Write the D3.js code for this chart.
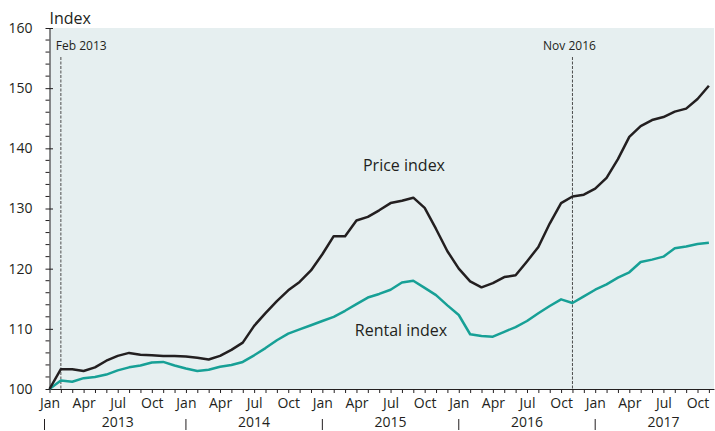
<!DOCTYPE html>
<html>
<head>
<meta charset="utf-8">
<script src="https://cdn.jsdelivr.net/npm/d3@7"></script>
<style>
    body { margin: 0; background: #fff; }
    text { font-family: "Open Sans", sans-serif; fill: #231f20; }
</style>
</head>
<body>
<script>
// Données : indices mensuels, janv. 2013 -> nov. 2017
const monthNames = ["Jan", "Feb", "Mar", "Apr", "May", "Jun", "Jul", "Aug", "Sep", "Oct", "Nov", "Dec"]
const years = [2013, 2014, 2015, 2016, 2017]
const yTicks = [100, 110, 120, 130, 140, 150, 160]

const priceIndex = [100.0, 103.3, 103.3, 103.0, 103.6, 104.7, 105.5, 106.0, 105.7, 105.6, 105.5, 105.5,
    105.4, 105.2, 104.9, 105.5, 106.5, 107.7, 110.5, 112.6, 114.6, 116.4, 117.8, 119.7,
    122.4, 125.4, 125.4, 128.0, 128.6, 129.7, 130.9, 131.3, 131.8, 130.1, 126.6, 122.9,
    120.0, 117.9, 116.9, 117.6, 118.6, 118.9, 121.2, 123.6, 127.5, 130.9, 132.0, 132.3,
    133.3, 135.1, 138.2, 141.9, 143.7, 144.7, 145.2, 146.1, 146.6, 148.2, 150.4]

const rentalIndex = [100.0, 101.4, 101.2, 101.8, 102.0, 102.4, 103.1, 103.6, 103.9, 104.4, 104.5, 103.9,
    103.4, 103.0, 103.2, 103.7, 104.0, 104.5, 105.6, 106.8, 108.1, 109.2, 109.9, 110.6,
    111.3, 112.0, 113.0, 114.1, 115.2, 115.8, 116.5, 117.7, 118.0, 116.8, 115.6, 113.9,
    112.3, 109.1, 108.8, 108.7, 109.5, 110.3, 111.3, 112.6, 113.8, 114.9, 114.3, 115.4,
    116.5, 117.4, 118.5, 119.4, 121.1, 121.5, 122.0, 123.4, 123.7, 124.1, 124.3]

// repères verticaux (indice du mois, libellé)
const markers = [
    { month: 1, label: "Feb 2013", anchor: "start", dx: -5 },
    { month: 46, label: "Nov 2016", anchor: "middle", dx: -3 }
]

//----------------------------------------------------------------------------------------------
const width = 715
const height = 431
const margin = { top: 28, right: 1, bottom: 42, left: 49.5 }

const svg = d3.select("body")
    .append("svg")
    .attr("width", width)
    .attr("height", height)

const x = d3.scaleLinear()
    .domain([0, 58.45])
    .range([margin.left, width - margin.right])

const y = d3.scaleLinear()
    .domain([100, 160])
    .range([height - margin.bottom, margin.top])

// fond de la zone du graphique
svg.append("rect")
    .attr("x", x(0))
    .attr("y", y(160))
    .attr("width", x.range()[1] - x(0))
    .attr("height", y(100) - y(160))
    .attr("fill", "#e6eff0")

//------------------------------- Axe Y ---------------------------------------------------------
const minorY = d3.range(100, 161, 2).filter(v => v % 10 != 0)

svg.append("g")
    .selectAll("line")
    .data(minorY)
    .join("line")
    .attr("x1", x(0) - 4)
    .attr("x2", x(0))
    .attr("y1", d => y(d))
    .attr("y2", d => y(d))
    .attr("stroke", "#231f20")
    .attr("stroke-width", 1)

const yAxis = svg.append("g")
    .attr("transform", `translate(${x(0)},0)`)
    .call(d3.axisLeft(y).tickValues(yTicks).tickSize(4).tickPadding(13).tickSizeOuter(0))

yAxis.select(".domain").attr("stroke", "#231f20")
yAxis.selectAll(".tick line").attr("x2", 3.5).attr("x1", -4).attr("stroke", "#231f20")
yAxis.selectAll(".tick text")
    .style("font-size", "14px")
    .style("font-family", "'Open Sans', sans-serif")
    .attr("fill", "#231f20")

svg.append("text")
    .attr("x", x(0))
    .attr("y", 24)
    .style("font-size", "16px")
    .text("Index")

//------------------------------- Axe X ---------------------------------------------------------
const xAxis = svg.append("g")
    .attr("transform", `translate(0,${y(100)})`)
    .call(d3.axisBottom(x)
        .tickValues(d3.range(0, 59))
        .tickSize(4)
        .tickPadding(5)
        .tickSizeOuter(0)
        .tickFormat(i => i % 3 == 0 ? monthNames[i % 12] : ""))

xAxis.select(".domain").attr("stroke", "#231f20")
xAxis.selectAll(".tick line").attr("stroke", "#231f20")
xAxis.selectAll(".tick text")
    .style("font-size", "14px")
    .style("font-family", "'Open Sans', sans-serif")
    .attr("fill", "#231f20")

// années et séparateurs
svg.append("g")
    .selectAll("text")
    .data(years)
    .join("text")
    .attr("x", (d, i) => x(i * 12 + 6))
    .attr("y", 427)
    .attr("text-anchor", "middle")
    .style("font-size", "14px")
    .text(d => d)

svg.append("g")
    .selectAll("line")
    .data(years)
    .join("line")
    .attr("x1", (d, i) => x(i * 12) - (i == 0 ? 5 : 0))
    .attr("x2", (d, i) => x(i * 12) - (i == 0 ? 5 : 0))
    .attr("y1", 419)
    .attr("y2", 430)
    .attr("stroke", "#231f20")
    .attr("stroke-width", 1)

//------------------------------- Repères -------------------------------------------------------
markers.forEach(m => {
    svg.append("line")
        .attr("x1", x(m.month))
        .attr("x2", x(m.month))
        .attr("y1", 57)
        .attr("y2", y(100))
        .attr("stroke", "#4d4d4d")
        .attr("stroke-width", 1)
        .attr("stroke-dasharray", "3,1.5")

    svg.append("text")
        .attr("x", x(m.month) + m.dx)
        .attr("y", 50)
        .attr("text-anchor", m.anchor)
        .style("font-size", "12px")
        .text(m.label)
})

//------------------------------- Courbes -------------------------------------------------------
const line = d3.line()
    .x((d, i) => x(i))
    .y(d => y(d))

svg.append("path")
    .datum(rentalIndex)
    .attr("d", line)
    .attr("fill", "none")
    .attr("stroke", "#17a096")
    .attr("stroke-width", 2.5)
    .attr("stroke-linejoin", "round")

svg.append("path")
    .datum(priceIndex)
    .attr("d", line)
    .attr("fill", "none")
    .attr("stroke", "#231f20")
    .attr("stroke-width", 2.5)
    .attr("stroke-linejoin", "round")

svg.append("text")
    .attr("x", 404)
    .attr("y", 171)
    .attr("text-anchor", "middle")
    .style("font-size", "16px")
    .text("Price index")

svg.append("text")
    .attr("x", 401)
    .attr("y", 336)
    .attr("text-anchor", "middle")
    .style("font-size", "16px")
    .text("Rental index")
</script>
</body>
</html>
